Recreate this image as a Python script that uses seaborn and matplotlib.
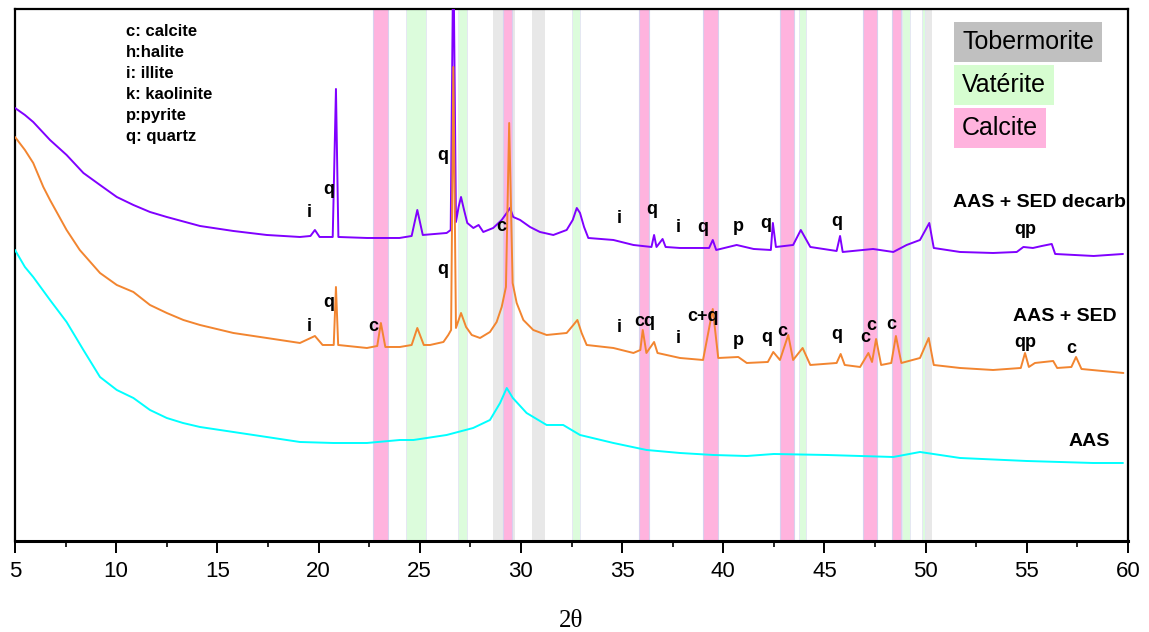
import numpy as np
import pandas as pd
import matplotlib
matplotlib.use('Agg')
import matplotlib.pyplot as plt
import seaborn as sns

# --- data (arbitrary intensity units) ---
decarb_x = [5.0, 5.49, 5.9, 6.73, 7.55, 8.38, 9.2, 10.03, 10.85, 11.67, 12.5, 14.14, 15.79,
            17.44, 19.08, 19.6, 19.82, 20.05, 20.7, 20.86, 20.98, 22.4, 24.0, 24.6, 24.88,
            25.15, 26.33, 26.53, 26.66, 26.79, 26.92, 27.04, 27.19, 27.35, 27.65, 27.91,
            28.14, 28.63, 29.05, 29.3, 29.46, 29.62, 29.96, 30.45, 30.94, 31.6, 32.26, 32.56,
            32.76, 32.92, 33.12, 33.33, 34.57, 35.56, 36.45, 36.58, 36.7, 37.0, 37.15, 37.86,
            39.3, 39.48, 39.65, 40.66, 41.5, 42.35, 42.45, 42.6, 43.45, 43.83, 44.3, 45.6,
            45.77, 45.9, 47.4, 48.4, 49.06, 49.72, 50.18, 50.4, 51.7, 53.33, 54.5, 54.83,
            55.3, 55.74, 56.23, 56.4, 58.3, 59.75]
decarb_y = [433, 426, 419, 401, 386, 368, 356, 344, 336, 329, 324, 315, 310,
            306, 304, 305, 311, 304, 304, 452, 304, 303, 303, 305, 331,
            306, 308, 311, 600, 319, 334, 344, 331, 318, 313, 316,
            309, 313, 321, 328, 333, 324, 321, 314, 309, 306, 311, 321,
            333, 328, 314, 303, 301, 296, 294, 306, 294, 302, 294, 293,
            293, 301, 291, 296, 292, 291, 318, 294, 296, 311, 294, 290,
            305, 289, 292, 289, 296, 301, 318, 293, 289, 288, 289, 294,
            293, 295, 297, 287, 285, 287]

sed_x = [5.0, 5.49, 5.9, 6.4, 6.73, 7.55, 8.2, 9.2, 10.03, 10.85, 11.67, 12.5, 13.32, 14.14,
         15.79, 17.44, 19.08, 19.82, 20.2, 20.75, 20.86, 20.97, 22.39, 22.9, 23.08, 23.3,
         24.02, 24.6, 24.88, 25.2, 25.51, 26.17, 26.41, 26.55, 26.66, 26.79, 27.04, 27.29,
         27.57, 27.98, 28.47, 28.8, 29.05, 29.26, 29.42, 29.59, 29.79, 30.12, 30.61, 31.27,
         32.26, 32.59, 32.79, 33.0, 33.25, 34.57, 35.56, 35.9, 36.02, 36.2, 36.58, 36.75,
         37.86, 39.0, 39.48, 39.75, 40.74, 41.16, 42.2, 42.47, 42.8, 43.21, 43.45, 43.92,
         44.3, 45.6, 45.8, 46.0, 46.76, 47.17, 47.35, 47.55, 47.8, 48.3, 48.53, 48.8,
         49.72, 50.15, 50.4, 51.7, 53.33, 54.7, 54.91, 55.1, 55.4, 56.3, 56.5, 57.2,
         57.43, 57.7, 59.77]
sed_y = [404, 391, 378, 354, 341, 311, 291, 268, 256, 249, 236, 228, 221, 216,
         208, 203, 198, 205, 196, 196, 254, 196, 193, 195, 218, 194,
         194, 196, 213, 196, 196, 199, 206, 211, 474, 213, 228, 214,
         206, 203, 209, 219, 234, 254, 418, 258, 238, 221, 211, 206,
         208, 216, 221, 208, 196, 193, 188, 191, 211, 188, 199, 188,
         183, 181, 232, 183, 184, 178, 179, 189, 181, 206, 181, 193,
         176, 178, 187, 176, 174, 188, 179, 202, 176, 178, 205, 178,
         183, 203, 176, 173, 171, 173, 188, 174, 178, 180, 173, 174,
         184, 172, 168]

aas_x = [5.0, 5.49, 5.9, 6.73, 7.55, 8.38, 9.2, 10.03, 10.85, 11.67, 12.5, 13.3, 14.14,
         15.79, 17.44, 19.08, 20.73, 22.39, 24.02, 24.69, 26.33, 27.64, 28.47, 28.97, 29.3,
         29.6, 30.28, 31.27, 32.09, 32.92, 34.57, 36.21, 37.86, 39.51, 41.16, 42.5, 45.11,
         48.4, 49.72, 51.7, 54.99, 58.27, 59.75]
aas_y = [291, 274, 264, 241, 219, 191, 164, 151, 143, 131, 123, 118, 114,
         109, 104, 99, 98, 98, 101, 101, 106, 113, 121, 138, 153,
         143, 128, 116, 116, 106, 98, 91, 88, 86, 85, 87, 86,
         84, 89, 83, 80, 78, 78]

series_names = ['AAS + SED decarb', 'AAS + SED', 'AAS']

tobermorite_bands = [(28.63, 29.7), (30.53, 31.19), (49.99, 50.32)]
vaterite_bands = [(24.33, 25.29), (26.87, 27.32), (32.5, 32.91), (43.74, 44.11),
                  (48.81, 49.25), (49.83, 49.99)]
calcite_bands = [(22.69, 23.43), (29.09, 29.54), (35.84, 36.31), (39.01, 39.72),
                 (42.8, 43.5), (46.91, 47.62), (48.36, 48.76)]

phase_key = ['c: calcite', 'h:halite', 'i: illite', 'k: kaolinite', 'p:pyrite', 'q: quartz']

decarb_marks = ['i', 'q', 'q', 'c', 'i', 'q', 'i', 'q', 'p', 'q', 'q', 'qp']
sed_marks = ['i', 'q', 'c', 'q', 'i', 'cq', 'i', 'c+q', 'p', 'q', 'c', 'q', 'c', 'c', 'c', 'qp', 'c']

# label anchor points (layout)
decarb_mark_pos = [(19.53, 328), (20.52, 351), (26.15, 385), (29.02, 314), (34.85, 322),
                   (36.48, 331), (37.76, 313), (39.0, 313), (40.73, 314), (42.11, 317),
                   (45.62, 319), (54.91, 311)]
sed_mark_pos = [(19.53, 214), (20.52, 238), (22.69, 214), (26.15, 271), (34.85, 213),
                (36.13, 219), (37.76, 202), (39.0, 224), (40.73, 200), (42.16, 203),
                (42.9, 209), (45.62, 206), (47.0, 203), (47.33, 215), (48.29, 216),
                (54.91, 198), (57.18, 192)]

sns.set_style('white')
plt.rcParams['font.family'] = ['Liberation Sans', 'DejaVu Sans']
plt.rcParams['text.color'] = 'black'
plt.rcParams['axes.labelcolor'] = 'black'
plt.rcParams['xtick.color'] = 'black'

fig = plt.figure(figsize=(11.49, 6.32), dpi=100)
ax = fig.add_axes([0.01305, 0.144, 0.9687, 0.8418])

for lo, hi in tobermorite_bands:
    ax.axvspan(lo, hi, color='#e8e8e8', lw=0, zorder=0)
for lo, hi in vaterite_bands:
    ax.axvspan(lo, hi, fc='#dcfcdc', ec='#e4e4f4', lw=0.6, zorder=0.5)
for lo, hi in calcite_bands:
    ax.axvspan(lo, hi, fc='#ffb3de', ec='#d8d0ee', lw=0.8, zorder=1)

colors = ['#8000ff', '#f28530', '#00ffff']
for xs, ys, c in zip([decarb_x, sed_x, aas_x], [decarb_y, sed_y, aas_y], colors):
    df = pd.DataFrame({'two_theta': xs, 'intensity': ys})
    sns.lineplot(data=df, x='two_theta', y='intensity', color=c, lw=1.4,
                 sort=False, estimator=None, ax=ax, zorder=3)

for t, (x, y) in zip(decarb_marks, decarb_mark_pos):
    ax.text(x, y, t, ha='center', va='center', fontsize=13, fontweight='bold', zorder=5)
for t, (x, y) in zip(sed_marks, sed_mark_pos):
    ax.text(x, y, t, ha='center', va='center', fontsize=13, fontweight='bold', zorder=5)

name_pos = [(59.88, 338), (59.46, 224), (59.11, 99)]
for name, (x, y) in zip(series_names, name_pos):
    ax.text(x, y, name, ha='right', va='center', fontsize=14, fontweight='bold', zorder=5)

for i, line in enumerate(phase_key):
    ax.text(10.49, 509 - 21 * i, line, ha='left', va='center', fontsize=12,
            fontweight='bold', zorder=5)

box_style = [('Tobermorite', '#c0c0c0', 0.938), ('Vatérite', '#d6fdd0', 0.857),
             ('Calcite', '#ffb3de', 0.777)]
for label, fc, yy in box_style:
    ax.text(0.851, yy, label, transform=ax.transAxes, ha='left', va='center',
            fontsize=18, zorder=6,
            bbox=dict(boxstyle='square,pad=0.32', fc=fc, ec='none'))

ax.set_xlim(5, 60)
ax.set_ylim(0, 532)
ax.set_xticks(np.arange(5, 61, 5))
ax.set_xticks(np.arange(7.5, 60, 5), minor=True)
ax.set_yticks([])
ax.tick_params(axis='x', which='major', direction='out', length=8.5, width=1.4,
               labelsize=16, pad=6, bottom=True, top=False)
ax.tick_params(axis='x', which='minor', direction='out', length=4.5, width=1.2,
               bottom=True, top=False)
ax.set_xlabel('2θ', fontsize=18, family=['Liberation Serif', 'DejaVu Serif'], labelpad=20)
ax.set_ylabel('')
for side in ['left', 'right', 'top', 'bottom']:
    ax.spines[side].set_visible(True)
    ax.spines[side].set_color('black')
    ax.spines[side].set_linewidth(1.6)
ax.spines['bottom'].set_linewidth(2.2)

plt.savefig('out.png', dpi=100)
plt.close()
